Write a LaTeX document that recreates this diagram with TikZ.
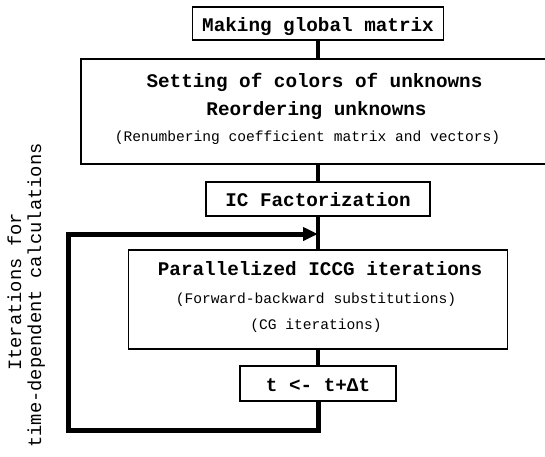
\documentclass[tikz,border=0pt]{standalone}
\usepackage{fontspec}
\usetikzlibrary{arrows.meta}
\newfontfamily\cour{Liberation Mono}
\tikzset{
  boxnode/.style={draw=black, line width=1.1pt, inner sep=0pt, fill=white},
  btext/.style={font=\cour\bfseries\fontsize{19.3}{23}\selectfont},
  ptext/.style={font=\cour\fontsize{14.6}{17}\selectfont},
  vtext/.style={font=\cour\fontsize{18.8}{22}\selectfont},
  oneline/.style={text height=15pt, text depth=0pt},
  conn/.style={line width=4.5pt},
  loopline/.style={line width=5pt, line join=miter, -{Triangle[length=15pt,width=13pt]}},
}
\begin{document}
\begin{tikzpicture}[x=1pt, y=-1pt]
\useasboundingbox (0,0) rectangle (545,456);
\clip (0,0) rectangle (545,456);
\fill[white] (0,0) rectangle (545,456);

% boxes
\node[boxnode, btext, oneline, minimum width=251pt, minimum height=33pt] (box1) at (318,23.5) {Making global matrix};
\node[boxnode, minimum width=479pt, minimum height=105pt] (box2) at (320.5,111.5) {};
\node[boxnode, btext, oneline, minimum width=224pt, minimum height=34pt] (box3) at (318,199) {IC Factorization};
\node[boxnode, minimum width=379pt, minimum height=99pt] (box4) at (318,299.5) {};
\node[boxnode, btext, oneline, minimum width=156pt, minimum height=35pt] (box5) at (318,383.5) {t <- t+Δt};

% texts in multi-line boxes
\node[btext, anchor=base, inner sep=0pt] (t21) at (314.5,87) {Setting of colors of unknowns};
\node[btext, anchor=base, inner sep=0pt] (t22) at (316.5,115) {Reordering unknowns};
\node[ptext, anchor=base, inner sep=0pt] (t23) at (307.5,141) {(Renumbering coefficient matrix and vectors)};
\node[btext, anchor=base, inner sep=0pt] (t41) at (320,275) {Parallelized ICCG iterations};
\node[ptext, anchor=base, inner sep=0pt] (t42) at (316,303) {(Forward-backward substitutions)};
\node[ptext, anchor=base, inner sep=0pt] (t43) at (316,329) {(CG iterations)};

% vertical label
\node[vtext, rotate=90, anchor=base, inner sep=0pt] (v1) at (21,292) {Iterations for};
\node[vtext, rotate=90, anchor=base, inner sep=0pt] (v2) at (41,295.5) {time-dependent calculations};

% connectors
\draw[conn] (box1.south) -- (box1.south |- box2.north);
\draw[conn] (box3.north |- box2.south) -- (box3.north);
\draw[conn] (box3.south) -- (box4.north);
\draw[conn] (box4.south) -- (box5.north);

% loop
\coordinate (tip) at (318,234);
\coordinate (lb) at (68,430);
\draw[loopline] (box5.south) |- (lb) |- (tip);
\end{tikzpicture}
\end{document}
